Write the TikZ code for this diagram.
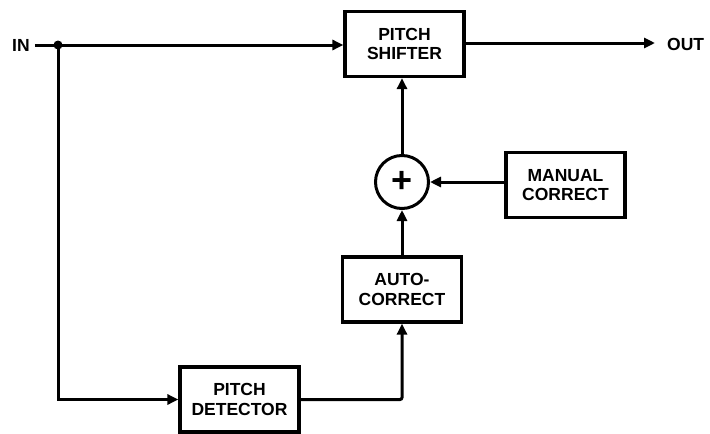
\documentclass[tikz,border=0pt]{standalone}
\usepackage{fontspec}
\setmainfont{Liberation Sans}
\usetikzlibrary{arrows.meta,calc}
\begin{document}
\begin{tikzpicture}[x=1pt,y=-1pt,
  lbl/.style={font=\fontsize{17.5}{19.5}\selectfont\bfseries, align=center},
  blockbox/.style={lbl, draw, line width=3.2pt, minimum width=119pt, minimum height=65pt, inner sep=0pt},
  wire/.style={line width=3pt},
  arr/.style={wire, -{Triangle[length=11pt,width=10pt]}},
  sumnode/.style={draw, circle, line width=3pt, minimum size=53pt, inner sep=0pt,
    font=\fontsize{36}{36}\selectfont\bfseries}]
\useasboundingbox (0,0) rectangle (710,434);
\node[lbl, inner sep=3pt] (in) at (21,45) {IN};
\node[blockbox] (shifter) at (404.5,44) {PITCH\\SHIFTER};
\node[lbl, anchor=west, inner sep=3pt] (out) at (664,44) {OUT};
\node[sumnode] (sum) at (402,182) {+};
\node[blockbox] (manual) at (565.5,185) {MANUAL\\CORRECT};
\node[blockbox] (auto) at (402,289.5) {AUTO-\\CORRECT};
\node[blockbox] (detector) at (239.5,399.5) {PITCH\\DETECTOR};
\coordinate (j) at (58,45);
\draw[arr] ($(in.east)+(2,0)$) -- (j) -- (shifter.west |- j);
\fill (j) circle (4.5pt);
\draw[arr] (j) |- (detector.west);
\draw[arr, rounded corners=2pt] (detector.east) -| (auto.south);
\draw[arr] (auto.north) -- (sum.south);
\draw[arr] (manual.west |- sum) -- (sum.east);
\draw[arr] (sum.north) -- (sum.north |- shifter.south);
\draw[arr, shorten >=9pt] (shifter.east |- 0,43) -- (out.west |- 0,43);
\end{tikzpicture}
\end{document}
